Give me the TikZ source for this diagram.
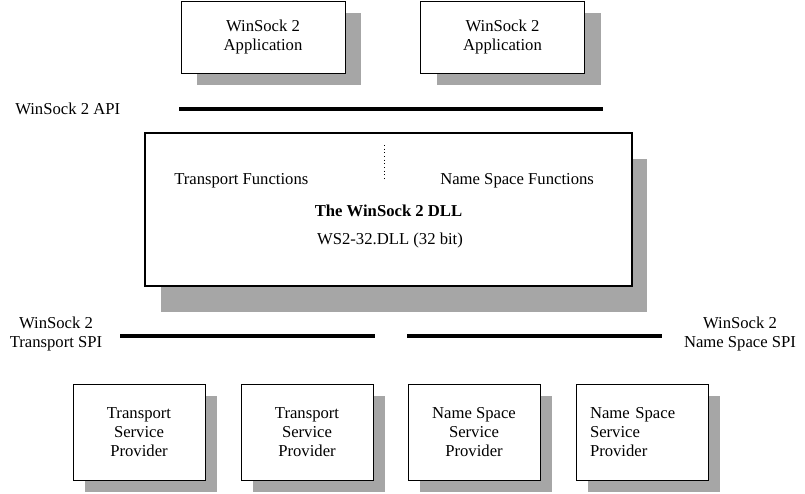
\documentclass[tikz,border=0pt]{standalone}
\usepackage{fontspec}
\setmainfont{Liberation Serif}
\usetikzlibrary{shadows}
\definecolor{shade}{RGB}{166, 166, 166}
\tikzset{appbox/.style = {draw, fill=white, line width=0.75pt, align=center,
                          minimum width=123pt, minimum height=54pt,
                          general shadow={fill=shade, shadow xshift=12pt, shadow yshift=-9pt}}}
\tikzset{spbox/.style = {draw, fill=white, line width=0.75pt, align=center,
                         minimum width=99pt, minimum height=72pt,
                         general shadow={fill=shade, shadow xshift=9pt, shadow yshift=-9pt}}}
\tikzset{dllbox/.style = {draw, fill=white, line width=1.5pt,
                          minimum width=365pt, minimum height=114.75pt,
                          general shadow={fill=shade, shadow xshift=11.5pt, shadow yshift=-19.5pt}}}
\tikzset{bar/.style = {line width=3pt}}
\tikzset{layertext/.style = {align=center, inner sep=0}}

\begin{document}
\begin{tikzpicture}[x=0.75pt, y=-0.75pt, font=\fontsize{12.5}{14.25}\selectfont]
    \useasboundingbox (0, 0) rectangle (805, 493);

    % applications
    \node [appbox] (app1) at (263, 37) {WinSock 2\\Application};
    \node [appbox] (app2) at (502.5, 37) {WinSock 2\\Application};

    % API
    \node [layertext, anchor=west] (api) at (15, 109) {WinSock 2 API};
    \coordinate (api w) at (179, 109);
    \coordinate (api e) at (603, 109);
    \draw [bar] (api w) -- (api e);

    % the DLL
    \node [dllbox] (dll) at (388.5, 209.5) {};
    \coordinate (sep n) at (384, 145);
    \coordinate (sep s) at (384, 180);
    \draw [dotted, line width=0.75pt] (sep n) -- (sep s);
    \node [layertext, anchor=west] (tfunc) at (174, 181) {Transport Functions};
    \node [layertext, anchor=west] (nsfunc) at (440, 181) {Name Space Functions};
    \node [layertext] (dllname) at (388.5, 211) {\textbf{The WinSock 2 DLL}};
    \node [layertext] (dllfile) at (390, 240) {WS2-32.DLL (32 bit)};

    % SPIs
    \node [layertext] (tspi) at (56, 334) {WinSock 2\\Transport SPI};
    \node [layertext] (nsspi) at (740, 334) {WinSock 2\\Name Space SPI};
    \coordinate (tspi w) at (120, 336);
    \coordinate (tspi e) at (375, 336);
    \coordinate (nsspi w) at (407, 336);
    \coordinate (nsspi e) at (662, 336);
    \draw [bar] (tspi w) -- (tspi e);
    \draw [bar] (nsspi w) -- (nsspi e);

    % providers
    \node [spbox] (tsp1) at (139, 432) {Transport\\Service\\Provider};
    \node [spbox] (tsp2) at (307, 432) {Transport\\Service\\Provider};
    \node [spbox] (nsp1) at (474, 432) {Name Space\\Service\\Provider};
    \node [spbox, align=left, text width=78pt] (nsp2) at (642, 432) {Name Space\\Service\\Provider};
  \end{tikzpicture}
\end{document}
